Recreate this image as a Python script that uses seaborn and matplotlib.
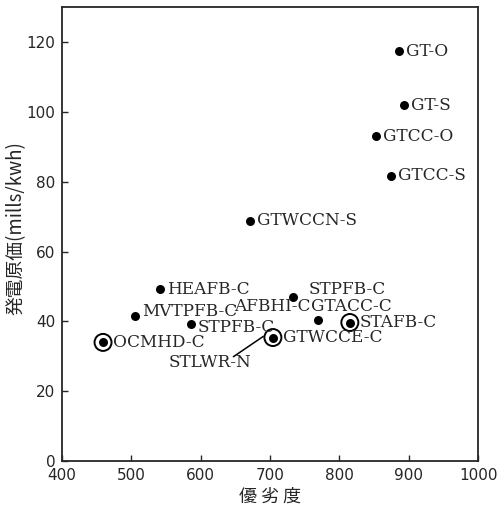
import matplotlib
matplotlib.use("Agg")
import matplotlib.pyplot as plt
import seaborn as sns
import pandas as pd

names = ["GT-O", "GT-S", "GTCC-O", "GTCC-S", "GTWCCN-S", "HEAFB-C", "MVTPFB-C",
         "STPFB-C", "OCMHD-C", "STPFB-C", "GTACC-C", "STAFB-C", "GTWCCE-C"]
merit = [886, 893, 853, 875, 671, 541, 505, 586, 459, 733, 769, 815, 704]
cost = [117.4, 101.9, 93.0, 81.7, 68.8, 49.2, 41.7, 39.4, 34.0, 46.9, 40.3, 39.7, 35.4]
ringed = [False, False, False, False, False, False, False, False, True, False, False, True, True]

xticks = [400, 500, 600, 700, 800, 900, 1000]
yticks = [0, 20, 40, 60, 80, 100, 120]

df = pd.DataFrame({"name": names, "merit": merit, "cost": cost, "ringed": ringed})

sns.set_style("ticks")
plt.rcParams["font.family"] = ["Noto Sans CJK JP", "DejaVu Sans"]

fig = plt.figure(figsize=(4.97, 5.09), dpi=100)
ax = fig.add_axes([0.125, 0.094, 0.837, 0.892])

sns.scatterplot(data=df, x="merit", y="cost", ax=ax, color="black", s=42,
                edgecolor="black", linewidth=0, legend=False, zorder=3)
rings = df[df["ringed"]]
sns.scatterplot(data=rings, x="merit", y="cost", ax=ax, s=150, marker="o",
                facecolor="none", edgecolor="black", linewidth=1.4,
                legend=False, zorder=3)

serif = ["DejaVu Serif"]
FS = 12.2
# label offsets in points (style only)
offsets = {0: (5, 0, "left"), 1: (5, 0, "left"), 2: (5, 0, "left"),
           3: (5, 0, "left"), 4: (5, 0, "left"), 5: (5, 0, "left"),
           6: (5, 3, "left"), 7: (5, -3, "left"), 8: (7, 0, "left"),
           9: (11, 6, "left"), 10: (-5, 10, "left"), 11: (7, 0, "left"),
           12: (7, 0, "left")}
for i, row in df.iterrows():
    dx, dy, ha = offsets[i]
    ax.annotate(row["name"], (row["merit"], row["cost"]), xytext=(dx, dy),
                textcoords="offset points", ha=ha, va="center",
                fontsize=FS, family=serif, zorder=4)

# AFBHI-C label, ends where GTACC-C label starts
ax.annotate("AFBHI-C", (df.loc[10, "merit"], df.loc[10, "cost"]), xytext=(-5, 10),
            textcoords="offset points", ha="right", va="center",
            fontsize=FS, family=serif)
# STLWR-N with leader line to GTWCCE-C
ax.text(553, 28.2, "STLWR-N", ha="left", va="center", fontsize=FS, family=serif)
ax.annotate("", xy=(690, 35.7), xytext=(647, 29.9),
            arrowprops=dict(arrowstyle="-", color="black", lw=1.1,
                            shrinkA=0, shrinkB=0))

ax.set_xlim(400, 1000)
ax.set_ylim(0, 130)
ax.set_xticks(xticks)
ax.set_yticks(yticks)
ax.tick_params(direction="in", length=4, width=1, labelsize=11, pad=5)
for lab in ax.get_xticklabels() + ax.get_yticklabels():
    lab.set_family(["DejaVu Sans"])
for sp in ax.spines.values():
    sp.set_visible(True)
    sp.set_linewidth(1.3)
ax.set_xlabel("優 劣 度", fontsize=13, labelpad=3)
ax.set_ylabel("発電原価(mills/kwh)", fontsize=13.5)
ax.yaxis.set_label_coords(-0.085, 0.513)

fig.savefig("out.png", dpi=100)
